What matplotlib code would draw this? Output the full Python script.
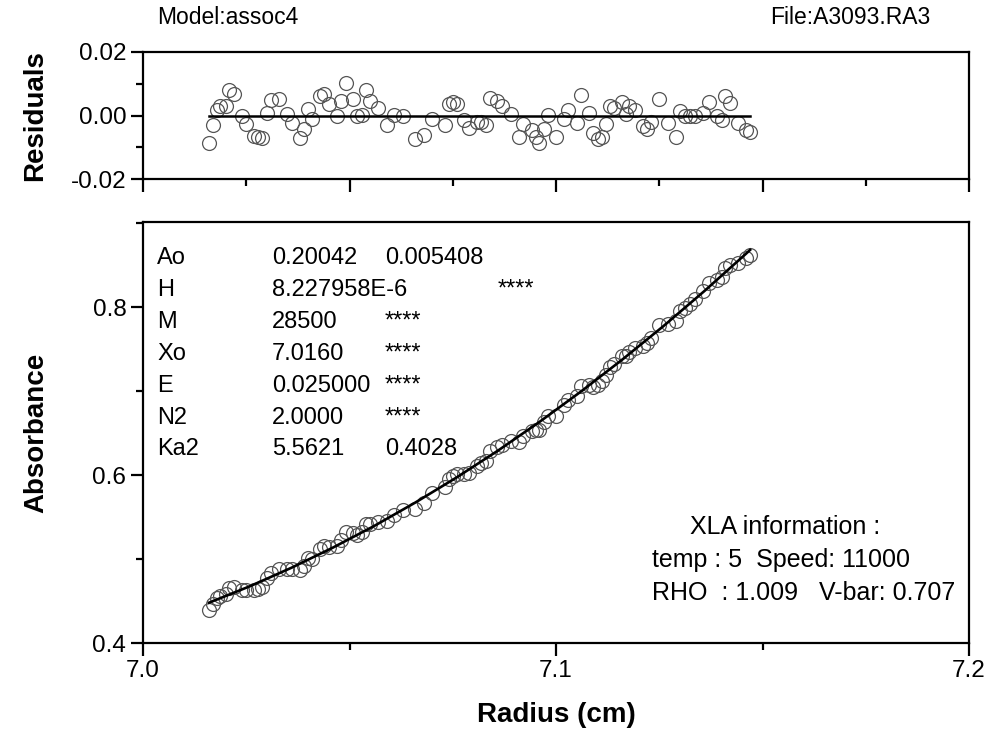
import matplotlib
matplotlib.use("Agg")
import matplotlib.pyplot as plt
from matplotlib.ticker import MultipleLocator, FormatStrFormatter

plt.rcParams["font.family"] = ["Liberation Sans", "DejaVu Sans"]
plt.rcParams["axes.unicode_minus"] = False

# radius (cm) of each scan point
radius = [
    7.0160, 7.0169, 7.0179, 7.0186, 7.0201, 7.0208, 7.0220, 7.0240, 7.0249, 7.0269,
    7.0278, 7.0288, 7.0300, 7.0310, 7.0329, 7.0349, 7.0361, 7.0380, 7.0390, 7.0400,
    7.0409, 7.0429, 7.0438, 7.0450, 7.0470, 7.0479, 7.0492, 7.0508, 7.0518, 7.0530,
    7.0540, 7.0550, 7.0569, 7.0591, 7.0608, 7.0630, 7.0659, 7.0680, 7.0700, 7.0731,
    7.0741, 7.0750, 7.0760, 7.0777, 7.0789, 7.0809, 7.0818, 7.0831, 7.0840, 7.0857,
    7.0869, 7.0891, 7.0910, 7.0920, 7.0942, 7.0952, 7.0959, 7.0971, 7.0981, 7.1000,
    7.1019, 7.1029, 7.1051, 7.1061, 7.1080, 7.1090, 7.1102, 7.1111, 7.1121, 7.1131,
    7.1140, 7.1160, 7.1169, 7.1177, 7.1191, 7.1211, 7.1220, 7.1230, 7.1249, 7.1271,
    7.1291, 7.1300, 7.1312, 7.1324, 7.1337, 7.1356, 7.1370, 7.1390, 7.1402, 7.1409,
    7.1421, 7.1441, 7.1460, 7.1470,
]

# measured absorbance
absorbance = [
    0.4392, 0.4467, 0.4533, 0.4561, 0.4588, 0.4653, 0.4667, 0.4635, 0.4629, 0.4632,
    0.4648, 0.4666, 0.4773, 0.4835, 0.4881, 0.4878, 0.4876, 0.4873, 0.4922, 0.5010,
    0.5002, 0.5119, 0.5150, 0.5147, 0.5160, 0.5231, 0.5317, 0.5312, 0.5284, 0.5319,
    0.5422, 0.5413, 0.5443, 0.5448, 0.5529, 0.5587, 0.5595, 0.5672, 0.5781, 0.5854,
    0.5950, 0.5988, 0.6011, 0.6014, 0.6027, 0.6107, 0.6139, 0.6166, 0.6284, 0.6329,
    0.6354, 0.6402, 0.6393, 0.6467, 0.6523, 0.6534, 0.6541, 0.6627, 0.6708, 0.6705,
    0.6834, 0.6895, 0.6936, 0.7058, 0.7076, 0.7049, 0.7074, 0.7117, 0.7194, 0.7291,
    0.7322, 0.7416, 0.7416, 0.7469, 0.7512, 0.7539, 0.7568, 0.7629, 0.7783, 0.7794,
    0.7831, 0.7953, 0.7987, 0.8039, 0.8093, 0.8185, 0.8280, 0.8323, 0.8363, 0.8468,
    0.8501, 0.8523, 0.8587, 0.8625,
]

# residuals of the fit
residuals = [
    -0.0088, -0.0031, 0.0016, 0.0030, 0.0029, 0.0079, 0.0069, -0.0002, -0.0028, -0.0065,
    -0.0069, -0.0072, 0.0009, 0.0050, 0.0053, 0.0006, -0.0023, -0.0071, -0.0044, 0.0021,
    -0.0010, 0.0060, 0.0068, 0.0035, 0.0000, 0.0046, 0.0102, 0.0053, 0.0000, 0.0003,
    0.0081, 0.0046, 0.0024, -0.0031, 0.0003, 0.0000, -0.0075, -0.0062, -0.0010, -0.0031,
    0.0035, 0.0044, 0.0037, -0.0013, -0.0038, -0.0019, -0.0019, -0.0031, 0.0056, 0.0046,
    0.0031, 0.0006, -0.0069, -0.0028, -0.0047, -0.0069, -0.0088, -0.0044, 0.0003, -0.0069,
    -0.0010, 0.0016, -0.0023, 0.0063, 0.0009, -0.0054, -0.0075, -0.0069, -0.0028, 0.0031,
    0.0025, 0.0044, 0.0006, 0.0031, 0.0016, -0.0034, -0.0044, -0.0022, 0.0053, -0.0025,
    -0.0069, 0.0013, -0.0003, -0.0003, 0.0000, 0.0009, 0.0041, 0.0000, -0.0013, 0.0060,
    0.0040, -0.0025, -0.0047, -0.0053,
]

# fitted curve
fit_radius = [7.016, 7.026, 7.036, 7.046, 7.056, 7.066, 7.076, 7.086,
              7.096, 7.106, 7.116, 7.126, 7.136, 7.146, 7.147]
fit_abs = [0.4480, 0.4678, 0.4897, 0.5136, 0.5394, 0.5674, 0.5973, 0.6292,
           0.6632, 0.6992, 0.7372, 0.7772, 0.8193, 0.8634, 0.8680]

param_names = ["Ao", "H", "M", "Xo", "E", "N2", "Ka2"]
param_values = ["0.20042", "8.227958E-6", "28500", "7.0160", "0.025000", "2.0000", "5.5621"]
param_errors = ["0.005408", "", "****", "****", "****", "****", "0.4028"]

W, H = 988, 736
fig = plt.figure(figsize=(W / 100, H / 100), dpi=100)

def box(x0, y0, x1, y1):
    return [x0 / W, 1 - y1 / H, (x1 - x0) / W, (y1 - y0) / H]

ax_r = fig.add_axes(box(143, 52, 969, 179))
ax_a = fig.add_axes(box(143, 222, 969, 643))

mk = dict(marker="o", ls="none", ms=10, mfc="none", mec="#555555", mew=0.9)

for ax in (ax_r, ax_a):
    for s in ax.spines.values():
        s.set_linewidth(1.6)
    ax.tick_params(which="major", direction="out", length=9, width=1.6, labelsize=17.5, pad=3)
    ax.tick_params(which="minor", direction="out", length=5, width=1.6)
    ax.set_xlim(7.0, 7.2)

# residuals panel
ax_r.plot(radius, residuals, **mk)
ax_r.plot([fit_radius[0], fit_radius[-1]], [0, 0], color="black", lw=1.8)
ax_r.set_ylim(-0.02, 0.02)
ax_r.yaxis.set_major_locator(MultipleLocator(0.02))
ax_r.yaxis.set_minor_locator(MultipleLocator(0.01))
ax_r.yaxis.set_major_formatter(FormatStrFormatter("%.2f"))
ax_r.xaxis.set_major_locator(MultipleLocator(0.05))
ax_r.xaxis.set_minor_locator(MultipleLocator(0.025))
ax_r.tick_params(axis="x", labelbottom=False)
ax_r.set_ylabel("Residuals", fontsize=20, fontweight="bold", labelpad=16)

# absorbance panel
ax_a.plot(radius, absorbance, **mk)
ax_a.plot(fit_radius, fit_abs, color="black", lw=1.9)
ax_a.set_ylim(0.4, 0.9012)
ax_a.yaxis.set_major_locator(MultipleLocator(0.2))
ax_a.yaxis.set_minor_locator(MultipleLocator(0.1))
ax_a.yaxis.set_major_formatter(FormatStrFormatter("%.1f"))
ax_a.xaxis.set_major_locator(MultipleLocator(0.1))
ax_a.xaxis.set_minor_locator(MultipleLocator(0.05))
ax_a.xaxis.set_major_formatter(FormatStrFormatter("%.1f"))
ax_a.set_xlabel("Radius (cm)", fontsize=20, fontweight="bold", labelpad=15)
ax_a.set_ylabel("Absorbance", fontsize=20, fontweight="bold", labelpad=31)

# fit parameter table
row_y = [258, 290, 322, 354, 386, 418, 449]
for name, val, err, y in zip(param_names, param_values, param_errors, row_y):
    fig.text(157 / W, 1 - y / H, name, fontsize=17, va="center")
    fig.text(272 / W, 1 - y / H, val, fontsize=17, va="center")
    if err:
        fig.text(385 / W, 1 - y / H, err, fontsize=17, va="center")
fig.text(498 / W, 1 - 290 / H, "****", fontsize=17, va="center")

fig.text(690 / W, 1 - 527 / H, "XLA information :", fontsize=18, va="center")
fig.text(652 / W, 1 - 560 / H, "temp : 5  Speed: 11000", fontsize=18, va="center")
fig.text(652 / W, 1 - 593 / H, "RHO  : 1.009   V-bar: 0.707", fontsize=18, va="center")

fig.text(157 / W, 1 - 18 / H, "Model:assoc4", fontsize=16.5, va="center")
fig.text(930 / W, 1 - 18 / H, "File:A3093.RA3", fontsize=16.5, va="center", ha="right")

fig.savefig("out.png", dpi=100)
